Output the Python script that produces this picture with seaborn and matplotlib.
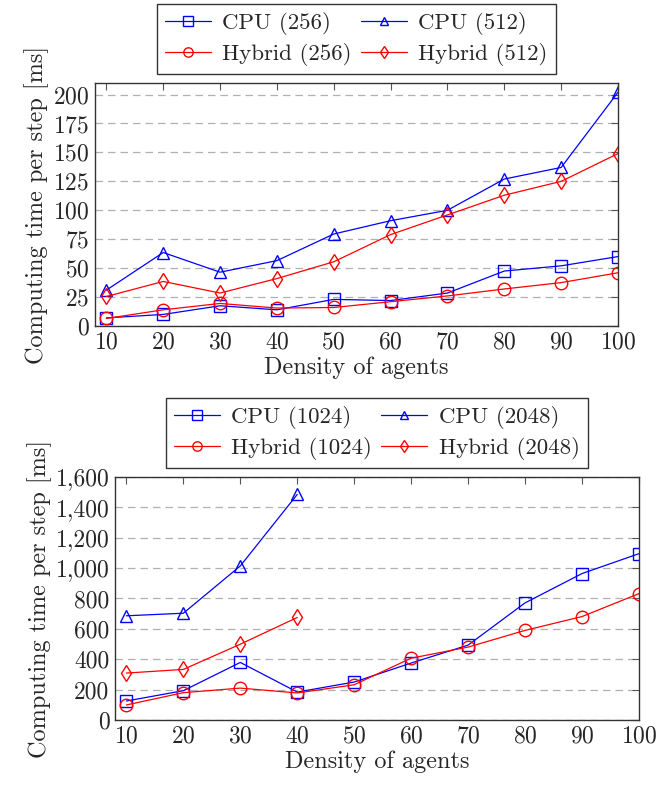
import matplotlib
matplotlib.use("Agg")
import matplotlib.pyplot as plt
import seaborn as sns
import numpy as np
import pandas as pd
from matplotlib.ticker import FuncFormatter, MultipleLocator

density = [10, 20, 30, 40, 50, 60, 70, 80, 90, 100]
density_short = [10, 20, 30, 40]

cpu_256 = [7, 10, 17.5, 14, 23, 22, 28.5, 47.5, 52, 60]
cpu_512 = [31, 63.5, 46.5, 56.5, 79.5, 91, 100, 127, 137, 202]
hybrid_256 = [6.5, 14, 19.5, 15.5, 16, 21, 26, 32, 37.5, 46]
hybrid_512 = [25.5, 38.5, 28.5, 41, 55.5, 79, 96, 113, 125, 149]

cpu_1024 = [125, 193, 379, 184, 250, 375, 493, 771, 964, 1095]
cpu_2048 = [686, 703, 1014, 1485]
hybrid_1024 = [99, 180, 210, 178, 232, 407, 480, 590, 681, 832]
hybrid_2048 = [309, 333, 499, 675]

top_labels = ["CPU (256)", "CPU (512)", "Hybrid (256)", "Hybrid (512)"]
bottom_labels = ["CPU (1024)", "CPU (2048)", "Hybrid (1024)", "Hybrid (2048)"]

sns.set_style("white")
plt.rcParams['font.family'] = ['cmr10', 'DejaVu Serif']
plt.rcParams['mathtext.fontset'] = 'cm'
plt.rcParams['axes.formatter.use_mathtext'] = True

FS = 17.5
TFS = 17
LFS = 16.5
fig = plt.figure(figsize=(6.56, 7.85), dpi=100)
ax1 = fig.add_axes([0.1448, 0.5847, 0.7973, 0.3096])
ax2 = fig.add_axes([0.1753, 0.0828, 0.7987, 0.3096])

styles = [("blue", "s", 9), ("blue", "^", 8), ("red", "o", 9), ("red", "d", 8)]


def draw(ax, xs_list, ys_list, labels):
    for xs, ys, lab, (c, m, ms) in zip(xs_list, ys_list, labels, styles):
        df = pd.DataFrame({"x": xs, "y": ys})
        sns.lineplot(data=df, x="x", y="y", ax=ax, color=c, marker=m,
                     markersize=ms, markerfacecolor="none", markeredgecolor=c,
                     markeredgewidth=1.0, linewidth=0.9, label=lab)
    ax.set_xlim(8, 100)
    ax.set_xticks(density)
    ax.yaxis.grid(True, linestyle=(0, (6, 4)), color="#b0b0b0", linewidth=0.9)
    ax.xaxis.grid(False)
    ax.tick_params(direction="in", top=True, right=True, length=5,
                   labelsize=TFS, color="#555555", width=0.8, pad=4)
    for s in ax.spines.values():
        s.set_color("#333333")
        s.set_linewidth(1.0)
    ax.set_xlabel("Density of agents", fontsize=FS, labelpad=2)
    ax.set_ylabel("Computing time per step [ms]", fontsize=FS, labelpad=3)
    handles, labs = ax.get_legend_handles_labels()
    order = [0, 2, 1, 3]
    leg = ax.legend([handles[i] for i in order], [labs[i] for i in order],
                    loc="lower center", bbox_to_anchor=(0.5, 1.035), ncol=2,
                    fontsize=LFS, frameon=True, fancybox=False, edgecolor="black",
                    handlelength=2.0, columnspacing=0.4, handletextpad=0.5,
                    borderpad=0.35, labelspacing=0.35, markerscale=0.75,
                    borderaxespad=0)
    leg.get_frame().set_linewidth(1.0)


draw(ax1, [density] * 4, [cpu_256, cpu_512, hybrid_256, hybrid_512], top_labels)
ax1.set_ylim(0, 210)
ax1.yaxis.set_major_locator(MultipleLocator(25))

draw(ax2, [density, density_short, density, density_short],
     [cpu_1024, cpu_2048, hybrid_1024, hybrid_2048], bottom_labels)
ax2.set_ylim(0, 1600)
ax2.yaxis.set_major_locator(MultipleLocator(200))
ax2.yaxis.set_major_formatter(FuncFormatter(lambda v, p: f"{int(v):,}"))

fig.savefig("out.png", dpi=100)
